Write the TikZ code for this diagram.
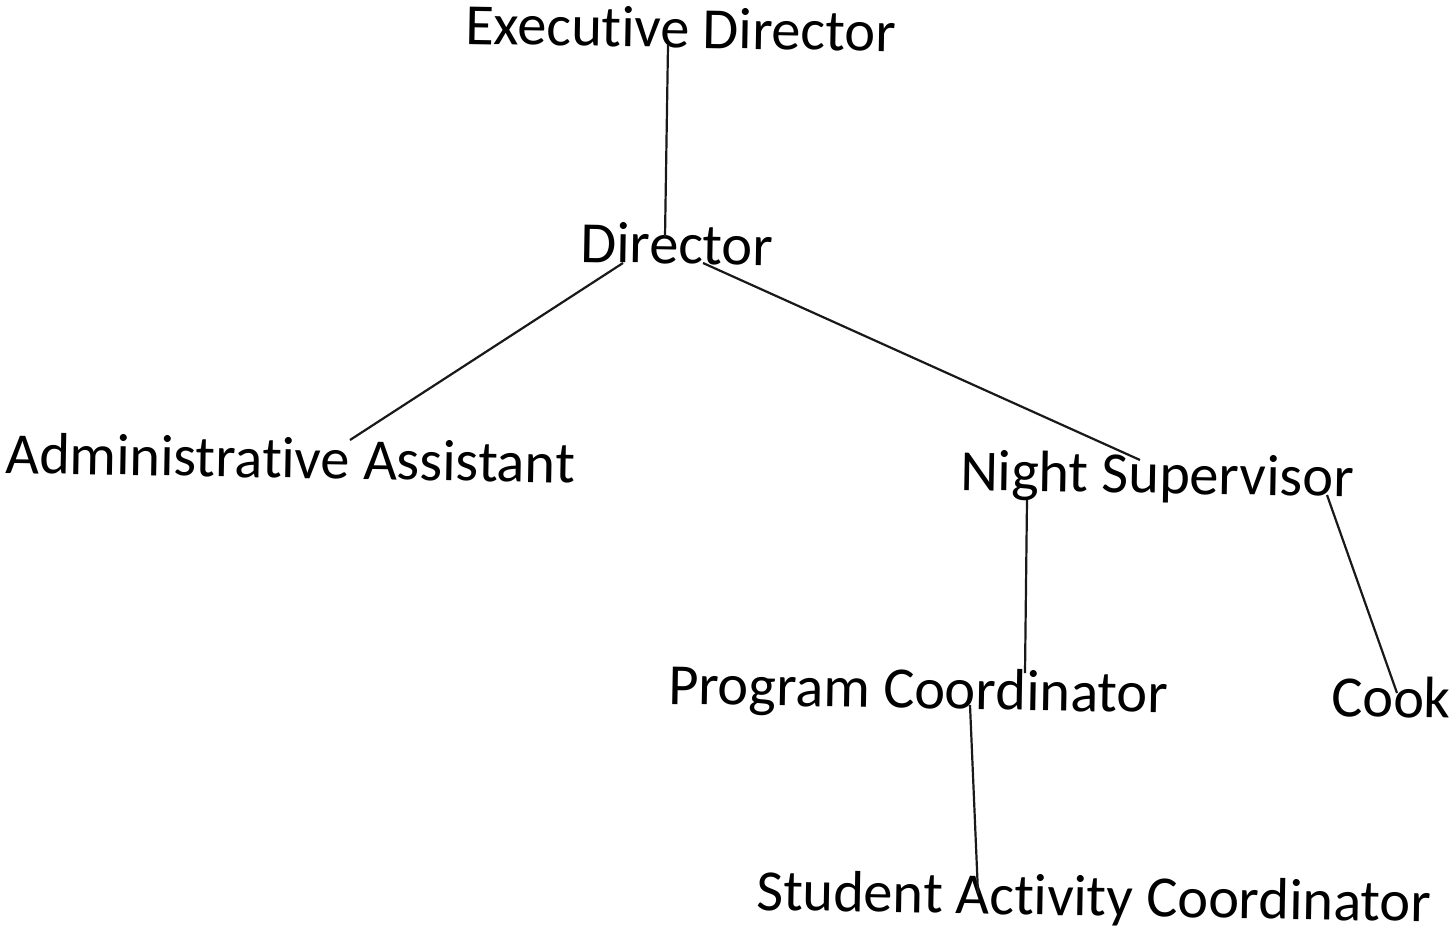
\documentclass[tikz,border=0pt]{standalone}
\usepackage{fontspec}
\setmainfont{Carlito}[Ligatures={NoCommon}]
\usepackage{tikz}
\usetikzlibrary{positioning}

\tikzset{
    post/.style={anchor=base west, inner sep=0pt, rotate=-1,
        font=\fontsize{58.4}{60}\selectfont},
    link/.style={line width=2.2pt, black!90}
}

\begin{document}
\begin{tikzpicture}[x=1pt, y=-1pt]
    \useasboundingbox (0,0) rectangle (1452,938);

    \node[post] (exec)    at (465,44)  {Executive Director};
    \node[post] (dir)     at (580,262) {Director};
    \node[post] (admin)   at (5,473)   {Administrative Assistant};
    \node[post] (night)   at (960,490) {Night Supervisor};
    \node[post] (prog)    at (668,704) {Program Coordinator};
    \node[post] (cook)    at (1331,716) {Cook};
    \node[post] (student) at (756,910) {Student Activity Coordinator};

    % reporting lines
    \draw[link] ([shift={(203,1)}]exec.base west) -- ([shift={(85,-25)}]dir.base west);
    \draw[link] ([shift={(43,1)}]dir.base west) -- ([shift={(345,-33)}]admin.base west);
    \draw[link] ([shift={(123,1)}]dir.base west) -- ([shift={(180,-30)}]night.base west);
    \draw[link] ([shift={(67,10)}]night.base west) -- ([shift={(357,-31)}]prog.base west);
    \draw[link] ([shift={(367,5)}]night.base west) -- ([shift={(66,-23)}]cook.base west);
    \draw[link] ([shift={(302,1)}]prog.base west) -- ([shift={(222,-17)}]student.base west);
\end{tikzpicture}
\end{document}
